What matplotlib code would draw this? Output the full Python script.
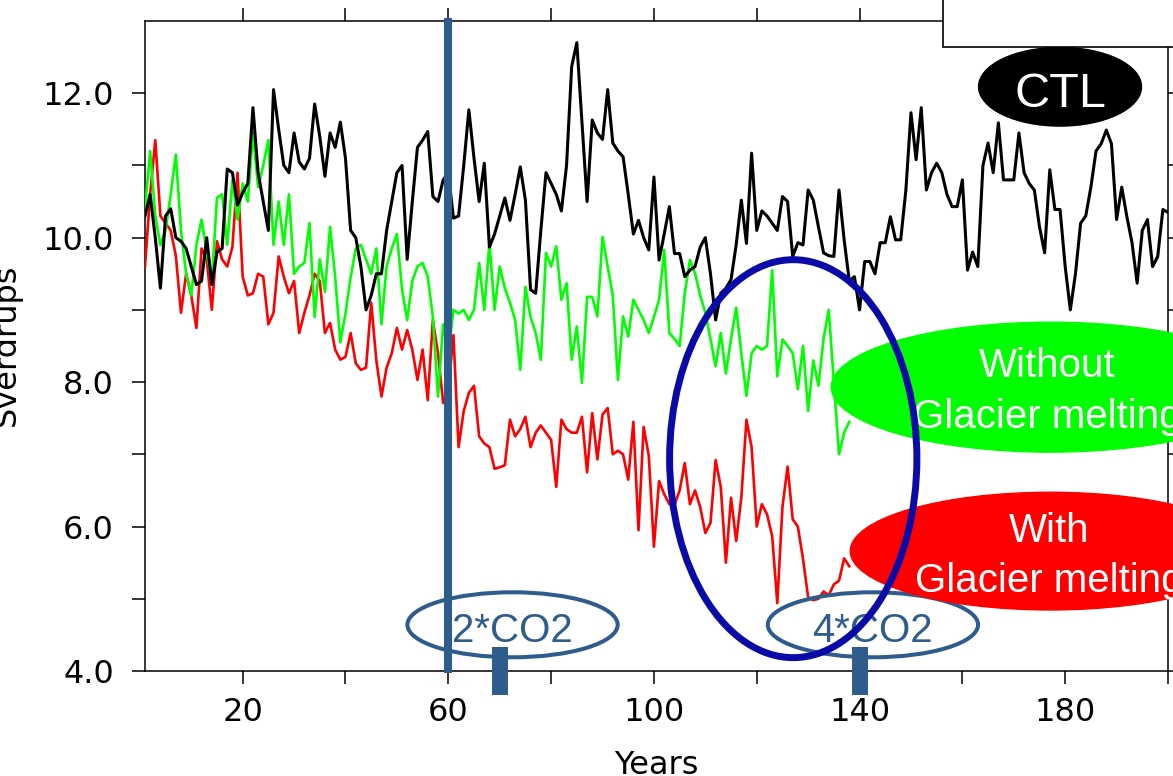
import matplotlib
matplotlib.use('Agg')
from matplotlib import pyplot as plt
from matplotlib.patches import Ellipse, Rectangle

# yearly transport (Sverdrups)
years_ctl = list(range(1, 201))
ctl = [10.3, 10.6, 10.0, 9.3, 10.3, 10.4, 10.0, 9.95, 9.85, 9.6,
       9.35, 9.4, 10.0, 9.35, 9.8, 9.85, 10.95, 10.9, 10.45, 10.62,
       10.75, 11.8, 10.9, 10.5, 10.1, 12.05, 11.5, 11.0, 10.9, 11.45,
       11.05, 10.95, 11.1, 11.85, 11.4, 10.85, 11.45, 11.25, 11.6, 11.1,
       10.1, 10.0, 9.6, 9.0, 9.2, 9.5, 9.5, 10.1, 10.5, 10.9,
       11.0, 9.7, 10.5, 11.25, 11.35, 11.47, 10.57, 10.5, 10.8, 10.9,
       10.27, 10.3, 11.0, 11.77, 11.1, 10.5, 11.03, 9.87, 10.05, 10.3,
       10.55, 10.24, 10.6, 10.98, 10.52, 9.28, 9.23, 10.1, 10.9, 10.75,
       10.6, 10.37, 11.0, 12.37, 12.7, 11.6, 10.5, 11.63, 11.45, 11.36,
       12.05, 11.31, 11.2, 11.12, 10.6, 10.05, 10.24, 10.0, 9.83, 10.84,
       9.69, 10.05, 10.43, 9.78, 9.78, 9.46, 9.55, 9.6, 9.87, 10.0,
       9.5, 8.86, 9.23, 9.3, 9.42, 9.9, 10.52, 9.92, 11.17, 10.1,
       10.37, 10.3, 10.2, 10.1, 10.57, 10.5, 9.74, 9.93, 9.9, 10.66,
       10.52, 10.15, 9.79, 9.75, 9.74, 10.66, 9.97, 9.4, 9.46, 9.0,
       9.67, 9.67, 9.5, 9.93, 9.93, 10.29, 9.97, 9.97, 10.65, 11.73,
       11.08, 11.8, 10.66, 10.9, 11.03, 10.9, 10.6, 10.43, 10.43, 10.8,
       9.55, 9.8, 9.6, 11.0, 11.31, 10.9, 11.59, 10.8, 10.8, 10.8,
       11.45, 10.9, 10.75, 10.66, 10.15, 9.79, 10.94, 10.39, 10.39, 9.6,
       9.0, 9.5, 10.2, 10.3, 10.7, 11.2, 11.3, 11.49, 11.3, 10.25,
       10.7, 10.29, 9.93, 9.37, 10.1, 10.25, 9.6, 9.74, 10.39, 10.35]

years_exp = list(range(1, 139))
without_melt = [10.4, 11.2, 10.3, 9.9, 10.1, 10.6, 11.15, 10.1, 9.5, 9.2,
                9.9, 10.25, 9.8, 9.4, 10.55, 10.6, 9.9, 10.8, 10.25, 10.75,
                10.5, 11.45, 10.7, 11.0, 11.35, 9.9, 10.5, 9.9, 10.6, 9.5,
                9.6, 9.65, 10.2, 8.9, 9.7, 9.25, 10.15, 9.45, 8.55, 8.95,
                9.45, 9.85, 9.9, 9.7, 9.5, 9.85, 8.8, 9.6, 9.85, 10.05,
                9.28, 8.86, 9.4, 9.6, 9.65, 9.46, 8.9, 7.8, 8.8, 8.4,
                9.0, 8.95, 9.0, 8.86, 9.0, 9.65, 9.0, 9.93, 9.0, 9.6,
                9.3, 9.1, 8.86, 8.17, 9.32, 8.9, 8.68, 8.31, 9.79, 9.6,
                9.88, 9.14, 9.37, 8.31, 8.77, 7.99, 9.18, 9.18, 8.91, 10.01,
                9.6, 9.2, 8.03, 8.91, 8.63, 9.14, 9.0, 8.86, 8.68, 8.9,
                9.14, 9.83, 8.68, 8.6, 8.5, 9.23, 9.69, 9.51, 9.2, 8.96,
                8.6, 8.22, 8.68, 8.12, 8.6, 9.03, 8.4, 7.81, 8.4, 8.5,
                8.45, 8.5, 9.55, 8.08, 8.59, 8.5, 8.4, 7.9, 8.5, 7.6,
                8.3, 7.95, 8.6, 9.0, 8.0, 7.0, 7.3, 7.45]
with_melt = [9.6, 10.6, 11.35, 10.3, 10.2, 10.1, 9.75, 8.96, 9.5, 9.2,
             8.75, 9.85, 9.7, 9.0, 9.95, 9.7, 9.6, 9.87, 10.9, 9.46,
             9.2, 9.23, 9.5, 9.46, 8.8, 8.96, 9.74, 9.46, 9.23, 9.4,
             8.68, 8.96, 9.2, 9.5, 9.4, 8.68, 8.82, 8.45, 8.31, 8.35,
             8.68, 8.26, 8.17, 8.2, 9.1, 8.3, 7.8, 8.2, 8.4, 8.75,
             8.45, 8.72, 8.45, 8.03, 8.45, 7.75, 8.86, 8.4, 7.71, 7.9,
             8.65, 7.1, 7.6, 7.85, 7.95, 7.25, 7.15, 7.1, 6.8, 6.82,
             6.85, 7.48, 7.25, 7.35, 7.52, 7.1, 7.3, 7.4, 7.3, 7.2,
             6.55, 7.48, 7.35, 7.3, 7.3, 7.52, 6.75, 7.57, 6.93, 7.55,
             7.64, 7.0, 7.05, 7.0, 6.65, 7.45, 5.95, 7.38, 6.98, 5.72,
             6.63, 6.45, 6.31, 6.3, 6.5, 6.88, 6.31, 6.5, 6.27, 5.91,
             6.05, 6.92, 6.55, 5.5, 6.4, 5.8, 6.4, 7.48, 7.1, 6.0,
             6.31, 6.17, 5.87, 4.94, 6.27, 6.83, 6.1, 6.0, 5.55, 5.02,
             4.98, 5.0, 5.1, 5.05, 5.2, 5.25, 5.56, 5.45]

x_major = [20, 60, 100, 140, 180]
x_minor = [40, 80, 120, 160, 200]
y_major = [4.0, 6.0, 8.0, 10.0, 12.0]
y_minor = [5, 7, 9, 11]

co2_years = [60, 70, 140]   # switch-on line, 2*CO2 and 4*CO2 marks

steel = '#2E5C8C'
navy = '#0A0AA8'
sans = ['Liberation Sans', 'DejaVu Sans']

W, H = 1173, 776
fig = plt.figure(figsize=(W / 100, H / 100), dpi=100)
ax = fig.add_axes([145 / W, 105 / H, 1023 / W, 650 / H])

ax.plot(years_exp, with_melt, color='#FF0000', lw=1.9, zorder=3)
ax.plot(years_exp, without_melt, color='#00FF00', lw=1.9, zorder=3)
ax.plot(years_ctl, ctl, color='black', lw=2.2, zorder=3)

ax.set_xlim(1, 200)
ax.set_ylim(4, 13)
ax.set_xticks(x_major)
ax.set_xticks(x_minor, minor=True)
ax.set_xticklabels([str(v) for v in x_major])
ax.set_yticks(y_major)
ax.set_yticks(y_minor, minor=True)
ax.set_yticklabels(['%.1f' % v for v in y_major])
ax.tick_params(which='both', direction='out', length=9.4, width=1.1,
               top=True, right=True, labelsize=23)
ax.tick_params(axis='x', pad=9)
ax.tick_params(axis='y', pad=13)
for s in ax.spines.values():
    s.set_linewidth(1.1)

fig.text(22 / W, 1 - 345 / H, 'Sverdrups', rotation=90, ha='right',
         va='center', fontsize=23)
fig.text(656 / W, 1 - 750 / H, 'Years', ha='center', va='top', fontsize=23)

# CO2 markers
ax.plot([co2_years[0], co2_years[0]], [3.97, 13.04], color=steel, lw=5.8,
        solid_capstyle='butt', clip_on=False, zorder=6)
for yr in co2_years[1:]:
    ax.plot([yr, yr], [3.67, 4.33], color=steel, lw=11.5,
            solid_capstyle='butt', clip_on=False, zorder=6)
for cx, label in [(72.5, '2*CO2'), (142.6, '4*CO2')]:
    ax.add_patch(Ellipse((cx, 4.64), 40.9, 0.90, facecolor='none',
                         edgecolor=steel, lw=2.9, clip_on=False, zorder=6.5))
    ax.text(cx, 4.40, label, color=steel, fontsize=29, family=sans,
            ha='center', va='baseline', zorder=6.6, clip_on=False)

# scenario labels
ax.add_patch(Ellipse((179.0, 12.09), 31.7, 1.09, color='black',
                     clip_on=False, zorder=7))
ax.text(179.0, 11.81, 'CTL', color='white', fontsize=35, family=sans,
        ha='center', va='baseline', zorder=7.1)

ax.add_patch(Ellipse((177.1, 7.93), 85.2, 1.80, color='#00FF00',
                     clip_on=False, zorder=7))
ax.text(176.5, 8.07, 'Without', color='white', fontsize=29, family=sans,
        ha='center', va='baseline', zorder=7.1, clip_on=False)
ax.text(176.5, 7.37, 'Glacier melting', color='white', fontsize=29,
        family=sans, ha='center', va='baseline', zorder=7.1, clip_on=False)

ax.add_patch(Ellipse((177.1, 5.66), 77.8, 1.63, color='#FF0000',
                     clip_on=False, zorder=7))
ax.text(176.9, 5.79, 'With', color='white', fontsize=29, family=sans,
        ha='center', va='baseline', zorder=7.1, clip_on=False)
ax.text(176.9, 5.09, 'Glacier melting', color='white', fontsize=29,
        family=sans, ha='center', va='baseline', zorder=7.1, clip_on=False)

# highlight of the 4*CO2 period
ax.add_patch(Ellipse((127.1, 6.94), 48.1, 5.51, facecolor='none',
                     edgecolor=navy, lw=5.0, clip_on=False, zorder=8))

# empty box top right
fig.add_artist(Rectangle((943 / W, 1 - 47 / H), 0.3, 0.3,
                         transform=fig.transFigure, facecolor='white',
                         edgecolor='black', lw=1.2, zorder=10))

fig.savefig('out.png', dpi=100)
